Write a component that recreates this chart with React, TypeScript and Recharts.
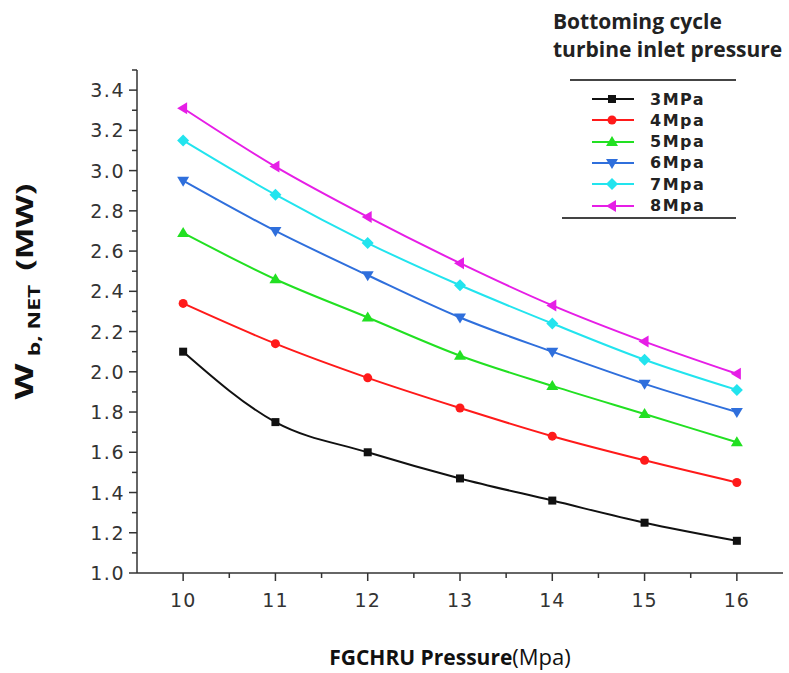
import React from 'react'
import { LineChart, Line, XAxis, YAxis } from 'recharts'

// FGCHRU pressure (Mpa)
const pressures = [10, 11, 12, 13, 14, 15, 16]
// W b,NET (MW) for each bottoming cycle turbine inlet pressure
const p3 = [2.1, 1.75, 1.6, 1.47, 1.36, 1.25, 1.16]
const p4 = [2.34, 2.14, 1.97, 1.82, 1.68, 1.56, 1.45]
const p5 = [2.69, 2.46, 2.27, 2.08, 1.93, 1.79, 1.65]
const p6 = [2.95, 2.7, 2.48, 2.27, 2.1, 1.94, 1.8]
const p7 = [3.15, 2.88, 2.64, 2.43, 2.24, 2.06, 1.91]
const p8 = [3.31, 3.02, 2.77, 2.54, 2.33, 2.15, 1.99]

const xTicks = [10, 10.5, 11, 11.5, 12, 12.5, 13, 13.5, 14, 14.5, 15, 15.5, 16]
const yTicks = [
  1.0, 1.1, 1.2, 1.3, 1.4, 1.5, 1.6, 1.7, 1.8, 1.9, 2.0, 2.1, 2.2, 2.3, 2.4, 2.5, 2.6, 2.7,
  2.8, 2.9, 3.0, 3.1, 3.2, 3.3, 3.4, 3.5,
]

const series = [
  { key: 'p3', name: '3MPa', color: '#111111', shape: 'square', values: p3 },
  { key: 'p4', name: '4Mpa', color: '#ff1a1a', shape: 'circle', values: p4 },
  { key: 'p5', name: '5Mpa', color: '#22e022', shape: 'up', values: p5 },
  { key: 'p6', name: '6Mpa', color: '#2f6fdc', shape: 'down', values: p6 },
  { key: 'p7', name: '7Mpa', color: '#22e4ee', shape: 'diamond', values: p7 },
  { key: 'p8', name: '8Mpa', color: '#e61ee6', shape: 'left', values: p8 },
]

const data = pressures.map((x, i) => {
  const row: any = { x }
  series.forEach(s => (row[s.key] = s.values[i]))
  return row
})

const tickFont = '"DejaVu Sans", sans-serif'

function Marker({ cx, cy, shape, color }: any) {
  if (cx == null || cy == null) return null
  const r = 5
  switch (shape) {
    case 'square':
      return <rect x={cx - 4} y={cy - 4} width={8} height={8} fill={color} />
    case 'circle':
      return <circle cx={cx} cy={cy} r={4.5} fill={color} />
    case 'up':
      return <polygon points={`${cx},${cy - r - 1} ${cx - r - 1},${cy + r - 1} ${cx + r + 1},${cy + r - 1}`} fill={color} />
    case 'down':
      return <polygon points={`${cx},${cy + r + 1} ${cx - r - 1},${cy - r + 1} ${cx + r + 1},${cy - r + 1}`} fill={color} />
    case 'diamond':
      return <polygon points={`${cx},${cy - r - 1} ${cx + r + 1},${cy} ${cx},${cy + r + 1} ${cx - r - 1},${cy}`} fill={color} />
    default:
      return <polygon points={`${cx - r - 1},${cy} ${cx + r - 1},${cy - r - 1} ${cx + r - 1},${cy + r + 1}`} fill={color} />
  }
}

const XTick = (props: any) => {
  const { x, y, payload } = props
  const major = Number.isInteger(payload.value)
  return (
    <g>
      <line x1={x} y1={y} x2={x} y2={y + (major ? 8 : 5)} stroke="#333" strokeWidth={1.5} />
      {major && (
        <text x={x} y={y + 34} textAnchor="middle" fontSize={19} fontFamily={tickFont} fill="#333" letterSpacing={1}>
          {payload.value}
        </text>
      )}
    </g>
  )
}

const YTick = (props: any) => {
  const { x, y, payload } = props
  const v = Math.round(payload.value * 10)
  const major = v % 2 === 0 && v <= 34
  return (
    <g>
      <line x1={x} y1={y} x2={x - (major ? 8 : 5)} y2={y} stroke="#333" strokeWidth={1.5} />
      {major && (
        <text x={x - 12} y={y + 7} textAnchor="end" fontSize={19} fontFamily={tickFont} fill="#333" letterSpacing={1.5}>
          {payload.value.toFixed(1)}
        </text>
      )}
    </g>
  )
}

const YLabel = ({ viewBox }: any) => {
  const cx = viewBox.x - 52
  const cy = viewBox.y + viewBox.height / 2 - 30
  return (
    <g transform={`translate(${cx},${cy}) rotate(-90) scale(1.2,0.8)`}>
      <text textAnchor="middle" fontFamily='"Open Sans", sans-serif' fontWeight="bold" fill="#111" dy={10}>
        <tspan fontSize={31}>W</tspan>
        <tspan fontSize={19} dx={6} dy={9}>b, NET</tspan>
        <tspan fontSize={28} dx={12} dy={-9}>(MW)</tspan>
      </text>
    </g>
  )
}

const XLabel = ({ viewBox }: any) => (
  <text x={viewBox.x + viewBox.width / 2 - 10} y={viewBox.y + 92} textAnchor="middle" fontFamily='"Open Sans", sans-serif' fill="#111" fontSize={21}>
    <tspan fontWeight="bold">FGCHRU Pressure</tspan>
    <tspan fontSize={22}>(Mpa)</tspan>
  </text>
)

const LegendBox = () => (
  <div style={{ position: 'absolute', left: 540, top: 0, width: 249, height: 225, fontFamily: tickFont }}>
    <div style={{ position: 'absolute', left: 13, top: 7, fontFamily: '"Open Sans", sans-serif', fontWeight: 'bold', fontSize: 21, lineHeight: '28px', color: '#222', whiteSpace: 'nowrap' }}>
      Bottoming cycle
      <br />
      turbine inlet pressure
    </div>
    <div style={{ position: 'absolute', left: 30, top: 79, width: 166, borderTop: '2px solid #444' }} />
    {series.map((s, i) => (
      <div key={s.key} style={{ position: 'absolute', left: 50, top: 89 + i * 21.3, height: 20, display: 'flex', alignItems: 'center' }}>
        <svg width={46} height={20}>
          <line x1={2} y1={10} x2={44} y2={10} stroke={s.color} strokeWidth={2} />
          <Marker cx={22} cy={10} shape={s.shape} color={s.color} />
        </svg>
        <span style={{ marginLeft: 14, fontWeight: 'bold', fontSize: 16, letterSpacing: 1.5, color: '#222' }}>{s.name}</span>
      </div>
    ))}
    <div style={{ position: 'absolute', left: 22, top: 217, width: 174, borderTop: '2px solid #444' }} />
  </div>
)

export default function App() {
  return (
    <div style={{ position: 'absolute', left: 0, top: 0, width: 789, height: 673, background: '#fff' }}>
      <LineChart width={789} height={673} data={data} margin={{ top: 70, right: 6, bottom: 70, left: 77 }}>
        <XAxis
          type="number"
          dataKey="x"
          domain={[9.5, 16.5]}
          ticks={xTicks}
          interval={0}
          tickSize={0}
          tickMargin={0}
          tickLine={false}
          tick={<XTick />}
          stroke="#333"
          strokeWidth={1.5}
          height={30}
          label={{ content: <XLabel /> }}
        />
        <YAxis
          type="number"
          domain={[1.0, 3.5]}
          ticks={yTicks}
          interval={0}
          tickSize={0}
          tickMargin={0}
          tickLine={false}
          tick={<YTick />}
          stroke="#333"
          strokeWidth={1.5}
          width={60}
          label={{ content: <YLabel /> }}
        />
        {series.map(s => (
          <Line
            key={s.key}
            dataKey={s.key}
            name={s.name}
            type="monotone"
            stroke={s.color}
            strokeWidth={2}
            isAnimationActive={false}
            dot={(p: any) => <Marker key={`${s.key}-${p.index}`} cx={p.cx} cy={p.cy} shape={s.shape} color={s.color} />}
            activeDot={false}
          />
        ))}
      </LineChart>
      <LegendBox />
    </div>
  )
}
